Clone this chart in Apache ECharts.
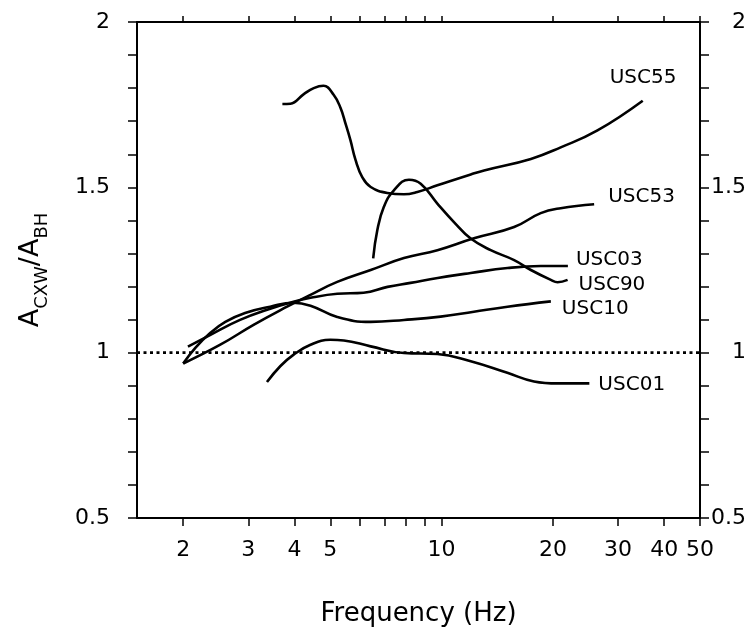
<!DOCTYPE html>
<html>
<head>
<meta charset="utf-8">
<script src="https://cdn.jsdelivr.net/npm/echarts@6/dist/echarts.min.js"></script>
<style>html,body{margin:0;padding:0;background:#fff}#c{width:754px;height:632px}</style>
</head>
<body>
<div id="c"></div>
<script>
// ---- data (frequency in Hz, ratio A_CXW/A_BH) ----
const usc55F = [3.71,3.90,4.24,4.51,4.79,5.11,5.33,5.50,5.67,5.85,6.10,6.43,7.13,7.91,8.60,9.74,11.99,13.03,17.44,21.0,26.4,35.0];
const usc55V = [1.752,1.753,1.782,1.800,1.807,1.779,1.740,1.692,1.642,1.583,1.531,1.501,1.483,1.479,1.486,1.506,1.539,1.551,1.586,1.621,1.672,1.762];
const usc53F = [2.0,2.52,3.10,3.82,4.42,5.22,6.43,7.91,9.74,12.23,15.71,18.54,21.0,25.86];
const usc53V = [0.967,1.024,1.084,1.139,1.175,1.214,1.250,1.286,1.310,1.346,1.380,1.422,1.437,1.449];
const usc03F = [2.06,2.37,2.85,3.44,3.97,4.42,5.22,6.15,7.14,8.24,9.76,11.99,15.08,18.54,21.96];
const usc03V = [1.018,1.054,1.099,1.133,1.154,1.166,1.178,1.181,1.199,1.211,1.226,1.241,1.256,1.262,1.262];
const usc90F = [6.53,6.70,6.98,7.43,8.16,8.78,9.74,10.80,11.99,13.58,15.71,17.44,19.75,20.59,21.92];
const usc90V = [1.285,1.370,1.441,1.491,1.523,1.511,1.451,1.395,1.345,1.310,1.280,1.250,1.220,1.213,1.220];
const usc10F = [2.0,2.16,2.37,2.60,2.94,3.44,3.97,4.42,5.22,6.43,7.91,9.94,12.23,15.08,19.75];
const usc10V = [0.967,1.015,1.060,1.093,1.120,1.139,1.151,1.142,1.108,1.093,1.099,1.109,1.124,1.139,1.155];
const usc01F = [3.37,3.66,3.98,4.42,5.00,5.44,6.43,7.91,9.74,11.99,15.06,17.78,20.59,25.1];
const usc01V = [0.911,0.959,0.994,1.024,1.039,1.037,1.019,0.999,0.996,0.974,0.939,0.913,0.907,0.907];
const refLineF = [1.5, 50];
const refLineV = [1, 1];
const xTickValues = [2,3,4,5,6,7,8,9,10,20,30,40,50];
const xLabelValues = [2,3,4,5,10,20,30,40,50];
const yTickValues = [0.5,0.6,0.7,0.8,0.9,1.0,1.1,1.2,1.3,1.4,1.5,1.6,1.7,1.8,1.9,2.0];
const yLabelValues = [0.5,1,1.5,2];
const xMin = 1.5, xMax = 50, yMin = 0.5, yMax = 2;

const lg = v => Math.log10(v);
const pts = (F, V) => F.map((f, i) => [lg(f), V[i]]);
const FONT = 'DejaVu Sans';

const curves = [
  {name: 'USC55', F: usc55F, V: usc55V, off: [-33, -23]},
  {name: 'USC53', F: usc53F, V: usc53V, off: [14, -7]},
  {name: 'USC03', F: usc03F, V: usc03V, off: [8, -6]},
  {name: 'USC90', F: usc90F, V: usc90V, off: [11, 5]},
  {name: 'USC10', F: usc10F, V: usc10V, off: [11, 7]},
  {name: 'USC01', F: usc01F, V: usc01V, off: [9, 1]}
];

const xCommon = {
  type: 'value', min: lg(xMin), max: lg(xMax),
  splitLine: {show: false},
  axisLine: {show: true, lineStyle: {color: '#000', width: 2}}
};
const yCommon = {
  type: 'value', min: yMin, max: yMax,
  splitLine: {show: false},
  axisLine: {show: true, lineStyle: {color: '#000', width: 2}},
  axisTick: {show: true, inside: false, length: 9, customValues: yTickValues, lineStyle: {color: '#000', width: 1.5}},
  axisLabel: {show: true, customValues: yLabelValues, color: '#000', fontFamily: FONT, fontSize: 22,
    formatter: v => String(parseFloat(Number(v).toFixed(2)))}
};

const series = curves.map(c => ({
  type: 'line', name: c.name, data: pts(c.F, c.V), smooth: 0.45, showSymbol: false, symbol: 'none',
  lineStyle: {color: '#000', width: 2.6}, xAxisIndex: 0, yAxisIndex: 0,
  endLabel: {show: true, formatter: c.name, offset: c.off, color: '#000', fontFamily: FONT, fontSize: 20, distance: 0}
}));
series.push({
  type: 'line', data: pts(refLineF, refLineV), showSymbol: false, symbol: 'none',
  lineStyle: {color: '#000', width: 2.6, type: [3, 3.5]}
});

const chart = echarts.init(document.getElementById('c'), null, {renderer: 'canvas'});
chart.setOption({
  animation: false,
  backgroundColor: '#fff',
  grid: {left: 137, right: 54, top: 22, bottom: 114, containLabel: false},
  xAxis: [
    Object.assign({}, xCommon, {
      position: 'bottom',
      axisTick: {show: true, inside: false, length: 8, customValues: xTickValues.map(lg), lineStyle: {color: '#000', width: 1.5}},
      axisLabel: {show: true, customValues: xLabelValues.map(lg), color: '#000', fontFamily: FONT, fontSize: 22, margin: 21,
        formatter: v => String(Math.round(Math.pow(10, v)))},
      name: 'Frequency (Hz)', nameLocation: 'middle', nameGap: 83,
      nameTextStyle: {color: '#000', fontFamily: FONT, fontSize: 26}
    }),
    Object.assign({}, xCommon, {
      position: 'top',
      axisTick: {show: true, inside: false, length: 6, customValues: xTickValues.map(lg), lineStyle: {color: '#000', width: 1.5}},
      axisLabel: {show: false}
    })
  ],
  yAxis: [
    Object.assign({}, yCommon, {
      position: 'left',
      axisLabel: Object.assign({}, yCommon.axisLabel, {margin: 27}),
      name: '{m|A}{s|CXW}{m|/A}{s|BH}', nameLocation: 'middle', nameGap: 86, nameRotate: 90,
      nameTextStyle: {
        color: '#000', fontFamily: FONT,
        rich: {
          m: {fontSize: 27, fontFamily: FONT, color: '#000'},
          s: {fontSize: 18, fontFamily: FONT, color: '#000', padding: [23, 0, 0, 0]}
        }
      }
    }),
    Object.assign({}, yCommon, {
      position: 'right',
      axisLabel: Object.assign({}, yCommon.axisLabel, {margin: 46, align: 'right'})
    })
  ],
  series: series
});
</script>
</body>
</html>
